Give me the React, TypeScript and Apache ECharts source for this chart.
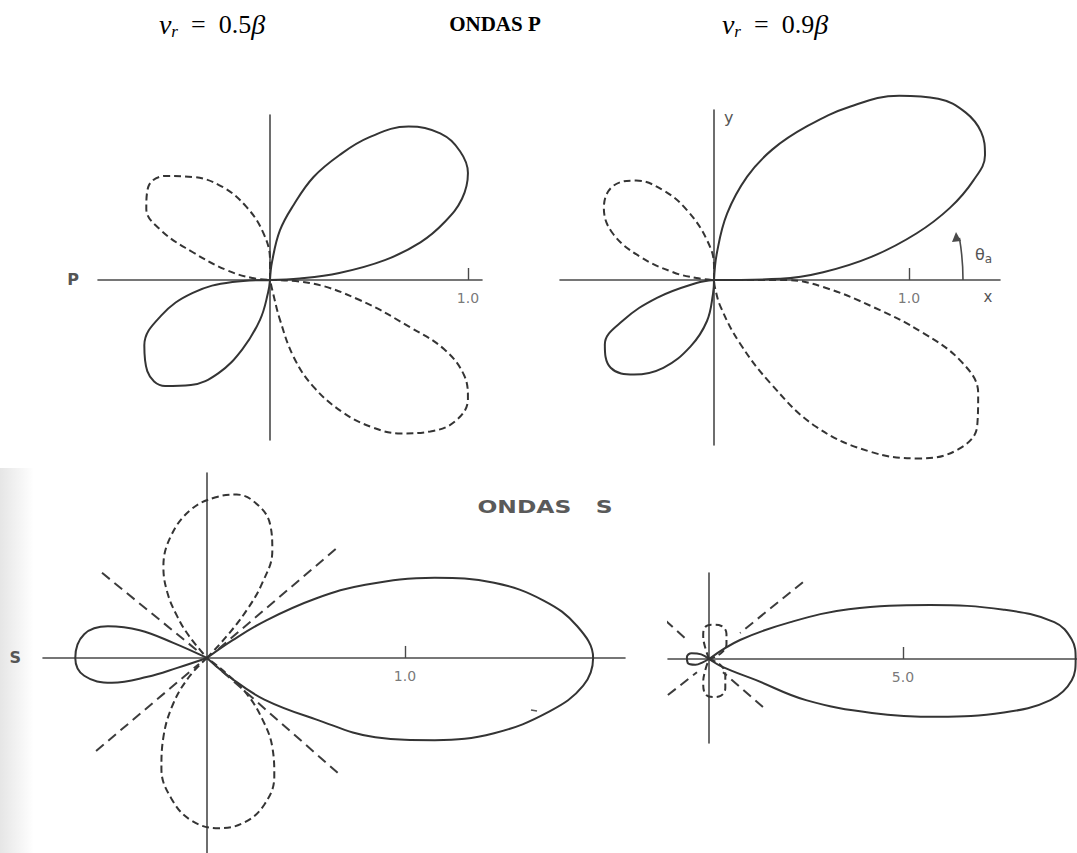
import React, { useEffect, useRef } from "react";
import * as echarts from "echarts";

// ---------- Top-left panel: P waves, v_r = 0.5β (1.0 = unit) ----------
const P05_SOLID_UPPER_RIGHT = [[0,0],[0.01,0.09],[0.05,0.25],[0.12,0.38],[0.22,0.52],[0.35,0.63],[0.50,0.72],[0.70,0.775],[0.86,0.74],[0.96,0.65],[1.0,0.54],[0.97,0.41],[0.88,0.29],[0.76,0.19],[0.58,0.10],[0.35,0.035],[0.15,0.007],[0,0]];
const P05_DASH_LOWER_RIGHT = [[0,0],[0.2,-0.015],[0.45,-0.10],[0.71,-0.24],[0.88,-0.35],[0.98,-0.48],[1.0,-0.60],[0.94,-0.71],[0.81,-0.765],[0.66,-0.775],[0.52,-0.745],[0.37,-0.67],[0.22,-0.54],[0.12,-0.39],[0.05,-0.2],[0.015,-0.065],[0,0]];
const P05_SOLID_LOWER_LEFT = [[0,0],[-0.19,-0.01],[-0.39,-0.065],[-0.55,-0.18],[-0.635,-0.33],[-0.62,-0.46],[-0.53,-0.535],[-0.40,-0.53],[-0.26,-0.47],[-0.14,-0.35],[-0.05,-0.2],[-0.01,-0.065],[0,0]];
const P05_DASH_UPPER_LEFT = [[0,0],[0,0.1],[-0.035,0.24],[-0.12,0.37],[-0.24,0.47],[-0.39,0.52],[-0.53,0.525],[-0.615,0.47],[-0.625,0.36],[-0.55,0.25],[-0.39,0.14],[-0.22,0.05],[-0.09,0.01],[0,0]];

// ---------- Top-right panel: P waves, v_r = 0.9β ----------
const P09_SOLID_UPPER_RIGHT = [[0,0],[0.015,0.14],[0.067,0.34],[0.17,0.53],[0.30,0.67],[0.48,0.79],[0.70,0.89],[0.95,0.945],[1.15,0.93],[1.29,0.86],[1.37,0.76],[1.39,0.64],[1.33,0.51],[1.21,0.37],[1.04,0.24],[0.81,0.12],[0.56,0.04],[0.34,0.006],[0,0]];
const P09_DASH_LOWER_RIGHT = [[0,0],[0.37,0],[0.56,-0.036],[0.82,-0.14],[1.07,-0.27],[1.27,-0.42],[1.355,-0.58],[1.35,-0.75],[1.25,-0.87],[1.05,-0.915],[0.80,-0.88],[0.52,-0.75],[0.29,-0.53],[0.13,-0.32],[0.035,-0.14],[0.005,-0.04],[0,0]];
const P09_DASH_UPPER_LEFT = [[0,0],[0,0.07],[-0.036,0.205],[-0.14,0.36],[-0.26,0.46],[-0.40,0.51],[-0.52,0.48],[-0.565,0.37],[-0.52,0.24],[-0.38,0.12],[-0.21,0.04],[-0.09,0.01],[0,0]];
const P09_SOLID_LOWER_LEFT = [[0,0],[-0.09,-0.015],[-0.29,-0.09],[-0.47,-0.21],[-0.56,-0.33],[-0.53,-0.45],[-0.41,-0.485],[-0.26,-0.45],[-0.12,-0.34],[-0.036,-0.21],[-0.005,-0.07],[0,0]];

// ---------- Bottom-left panel: S waves, v_r = 0.5β ----------
const S05_SOLID_MAIN = [[0,0],[0.13,0.09],[0.30,0.19],[0.55,0.30],[0.80,0.37],[1.15,0.405],[1.45,0.38],[1.70,0.29],[1.87,0.16],[1.95,0],[1.90,-0.14],[1.73,-0.27],[1.45,-0.38],[1.15,-0.415],[0.85,-0.40],[0.55,-0.31],[0.29,-0.21],[0.12,-0.10],[0,0]];
const S05_DASH_UPPER = [[0,0],[0.10,0.11],[0.20,0.24],[0.28,0.38],[0.33,0.54],[0.32,0.67],[0.26,0.77],[0.15,0.825],[0.04,0.81],[-0.08,0.75],[-0.18,0.62],[-0.22,0.46],[-0.20,0.33],[-0.15,0.21],[-0.09,0.11],[0,0]];
const S05_DASH_LOWER = [[0,0],[-0.09,-0.095],[-0.17,-0.23],[-0.22,-0.40],[-0.23,-0.56],[-0.18,-0.71],[-0.08,-0.82],[0.06,-0.86],[0.19,-0.83],[0.29,-0.74],[0.34,-0.60],[0.33,-0.45],[0.28,-0.31],[0.20,-0.18],[0.10,-0.08],[0,0]];
const S05_SOLID_LEFT = [[0,0],[-0.17,0.076],[-0.34,0.14],[-0.50,0.16],[-0.62,0.12],[-0.665,0.0],[-0.62,-0.09],[-0.48,-0.125],[-0.30,-0.095],[-0.15,-0.05],[0,0]];
const S05_CRITICAL_LINES = [
  [[-0.53,0.43],[-0.04,0.03]],
  [[0.65,0.55],[0.04,0.03]],
  [[-0.56,-0.47],[-0.04,-0.03]],
  [[0.66,-0.58],[0.04,-0.035]],
];

// ---------- Bottom-right panel: S waves, v_r = 0.9β ----------
const S09_SOLID_MAIN = [[0,0],[0.8,0.49],[2.1,0.95],[3.6,1.28],[5.7,1.39],[7.6,1.27],[8.9,0.95],[9.35,0.5],[9.45,0],[9.35,-0.55],[8.8,-1.06],[7.6,-1.38],[5.9,-1.49],[4.2,-1.39],[2.5,-1.06],[1.2,-0.54],[0.36,-0.21],[0,0]];
const S09_DASH_UPPER = [[0,0],[-0.1,0.3],[-0.15,0.6],[-0.1,0.82],[0.1,0.88],[0.32,0.85],[0.45,0.65],[0.45,0.38],[0.3,0.14],[0,0]];
const S09_DASH_LOWER = [[0,0],[0.3,-0.16],[0.42,-0.4],[0.42,-0.75],[0.3,-0.95],[0.1,-0.98],[-0.1,-0.9],[-0.15,-0.6],[-0.1,-0.3],[0,0]];
const S09_SOLID_LEFT = [[0,0],[-0.2,0.12],[-0.45,0.15],[-0.57,0.05],[-0.55,-0.1],[-0.35,-0.15],[-0.15,-0.08],[0,0]];
const S09_CRITICAL_LINES = [
  [[-2.04,1.83],[-0.57,0.49]],
  [[2.42,1.98],[0.80,0.67]],
  [[-1.06,-0.93],[-0.31,-0.34]],
  [[1.39,-1.24],[0.36,-0.34]],
];

// ---------- Tick values ----------
const TICK_P = [1.0];
const TICK_S05 = [1.0];
const TICK_S09 = [5.0];

const INK = "#343434";
const AXIS = "#4a4a4a";
const LABEL = "#555";
const SANS = "DejaVu Sans";
const SERIF = "Liberation Serif";

function xAxisDef(gi: number, min: number, max: number, ticks: number[], name?: string, nameGap = 20) {
  return {
    type: "value", gridIndex: gi, min, max,
    name: name || "", nameLocation: "start", nameGap,
    nameTextStyle: { color: LABEL, fontFamily: SANS, fontSize: 16, fontWeight: "bold" },
    axisLine: { show: true, onZero: true, lineStyle: { color: AXIS, width: 1.6 } },
    axisTick: { show: true, inside: true, length: 12, customValues: ticks, lineStyle: { color: AXIS, width: 1.4 } },
    axisLabel: { show: false },
    splitLine: { show: false },
  };
}
function yAxisDef(gi: number, min: number, max: number) {
  return {
    type: "value", gridIndex: gi, min, max,
    axisLine: { show: true, onZero: true, lineStyle: { color: AXIS, width: 1.6 } },
    axisTick: { show: false }, axisLabel: { show: false }, splitLine: { show: false },
  };
}
function tickLabels(gi: number, ticks: number[]) {
  return {
    type: "scatter", xAxisIndex: gi, yAxisIndex: gi, silent: true,
    data: ticks.map((t) => [t, 0]), symbolSize: 0,
    label: {
      show: true, position: "bottom", distance: 11,
      formatter: (p: any) => p.value[0].toFixed(1),
      color: LABEL, fontFamily: SANS, fontSize: 14,
    },
  };
}
function lobe(data: number[][], gi: number, dashed: boolean, smooth = 0.4) {
  return {
    type: "line", xAxisIndex: gi, yAxisIndex: gi, data, symbol: "none", showSymbol: false,
    smooth, clip: false, silent: true,
    lineStyle: { color: INK, width: 2, type: dashed ? [7, 4] : "solid" },
  };
}
function critical(data: number[][], gi: number) {
  return {
    type: "line", xAxisIndex: gi, yAxisIndex: gi, data, symbol: "none", showSymbol: false,
    clip: false, silent: true,
    lineStyle: { color: "#3c3c3c", width: 2, type: [10, 6] },
  };
}

function eqText(x: number, value: string) {
  return {
    type: "text", x, y: 24,
    style: {
      text: `{v|ν}{s|r}{n|  =  ${value}}{v|β}`,
      align: "center", verticalAlign: "middle",
      rich: {
        v: { fontFamily: SERIF, fontStyle: "italic", fontSize: 28, lineHeight: 32, fill: "#000" },
        s: { fontFamily: SERIF, fontStyle: "italic", fontSize: 17, lineHeight: 32, verticalAlign: "bottom", fill: "#000" },
        n: { fontFamily: SERIF, fontSize: 26, lineHeight: 32, fill: "#000" },
      },
    },
  };
}

export default function App() {
  const ref = useRef<HTMLDivElement>(null);
  useEffect(() => {
    if (!ref.current) return;
    const chart = echarts.init(ref.current, null, { renderer: "svg" });
    const option = {
      animation: false,
      backgroundColor: "#fff",
      grid: [
        { left: 98, top: 115, width: 384, height: 325 },
        { left: 560, top: 110, width: 440, height: 335 },
        { left: 43, top: 473, width: 582, height: 380 },
        { left: 668, top: 573, width: 409, height: 170 },
      ],
      xAxis: [
        xAxisDef(0, -0.869, 1.071, TICK_P, "P", 19),
        xAxisDef(1, -0.79, 1.467, TICK_P),
        xAxisDef(2, -0.828, 2.111, TICK_S05, "S", 22),
        xAxisDef(3, -1.057, 9.485, TICK_S09),
      ],
      yAxis: [
        yAxisDef(0, -0.808, 0.833),
        yAxisDef(1, -0.846, 0.872),
        yAxisDef(2, -0.985, 0.934),
        yAxisDef(3, -2.165, 2.216),
      ],
      series: [
        lobe(P05_SOLID_UPPER_RIGHT, 0, false),
        lobe(P05_DASH_LOWER_RIGHT, 0, true),
        lobe(P05_SOLID_LOWER_LEFT, 0, false),
        lobe(P05_DASH_UPPER_LEFT, 0, true),
        tickLabels(0, TICK_P),
        lobe(P09_SOLID_UPPER_RIGHT, 1, false),
        lobe(P09_DASH_LOWER_RIGHT, 1, true),
        lobe(P09_DASH_UPPER_LEFT, 1, true),
        lobe(P09_SOLID_LOWER_LEFT, 1, false),
        tickLabels(1, TICK_P),
        lobe(S05_SOLID_MAIN, 2, false),
        lobe(S05_DASH_UPPER, 2, true),
        lobe(S05_DASH_LOWER, 2, true),
        lobe(S05_SOLID_LEFT, 2, false),
        ...S05_CRITICAL_LINES.map((d) => critical(d, 2)),
        tickLabels(2, TICK_S05),
        lobe(S09_SOLID_MAIN, 3, false),
        lobe(S09_DASH_UPPER, 3, true),
        lobe(S09_DASH_LOWER, 3, true),
        lobe(S09_SOLID_LEFT, 3, false),
        ...S09_CRITICAL_LINES.map((d) => critical(d, 3)),
        tickLabels(3, TICK_S09),
      ],
      graphic: [
        {
          type: "rect", z: -1, shape: { x: 0, y: 468, width: 34, height: 385 },
          style: {
            fill: new echarts.graphic.LinearGradient(0, 0, 1, 0, [
              { offset: 0, color: "rgba(0,0,0,0.10)" },
              { offset: 1, color: "rgba(0,0,0,0)" },
            ]),
          },
        },
        eqText(212, "0.5"),
        {
          type: "text", x: 495, y: 24,
          style: { text: "ONDAS P", align: "center", verticalAlign: "middle", fontFamily: SERIF, fontWeight: "bold", fontSize: 21, fill: "#000" },
        },
        eqText(775, "0.9"),
        {
          type: "text", x: 545, y: 507, scaleX: 1.3, originX: 0, originY: 0,
          style: { text: "ONDAS   S", align: "center", verticalAlign: "middle", fontFamily: SANS, fontWeight: "bold", fontSize: 18, fill: "#5a5a5a" },
        },
        {
          type: "text", x: 724, y: 117,
          style: { text: "y", align: "left", verticalAlign: "middle", fontFamily: SANS, fontSize: 16, fill: LABEL },
        },
        {
          type: "text", x: 988, y: 297,
          style: { text: "x", align: "center", verticalAlign: "middle", fontFamily: SANS, fontSize: 15, fill: LABEL },
        },
        {
          type: "arc",
          shape: { cx: 714, cy: 280, r: 249, startAngle: -0.17, endAngle: 0, clockwise: true },
          style: { stroke: AXIS, lineWidth: 1.6, fill: "none" },
        },
        {
          type: "polygon",
          shape: { points: [[956, 232], [952, 242], [961, 241]] },
          style: { fill: AXIS },
        },
        {
          type: "text", x: 975, y: 254,
          style: {
            text: "{t|θ}{s|a}", align: "left", verticalAlign: "middle",
            rich: {
              t: { fontFamily: SANS, fontSize: 16, fill: LABEL, lineHeight: 22 },
              s: { fontFamily: SANS, fontSize: 12, fill: LABEL, lineHeight: 22, verticalAlign: "bottom" },
            },
          },
        },
        {
          type: "line", shape: { x1: 531, y1: 710, x2: 537, y2: 711 },
          style: { stroke: "#555", lineWidth: 1.5 },
        },
      ],
    };
    chart.setOption(option as any);
    return () => chart.dispose();
  }, []);
  return <div ref={ref} style={{ position: "absolute", left: 0, top: 0, width: 1077, height: 853 }} />;
}
